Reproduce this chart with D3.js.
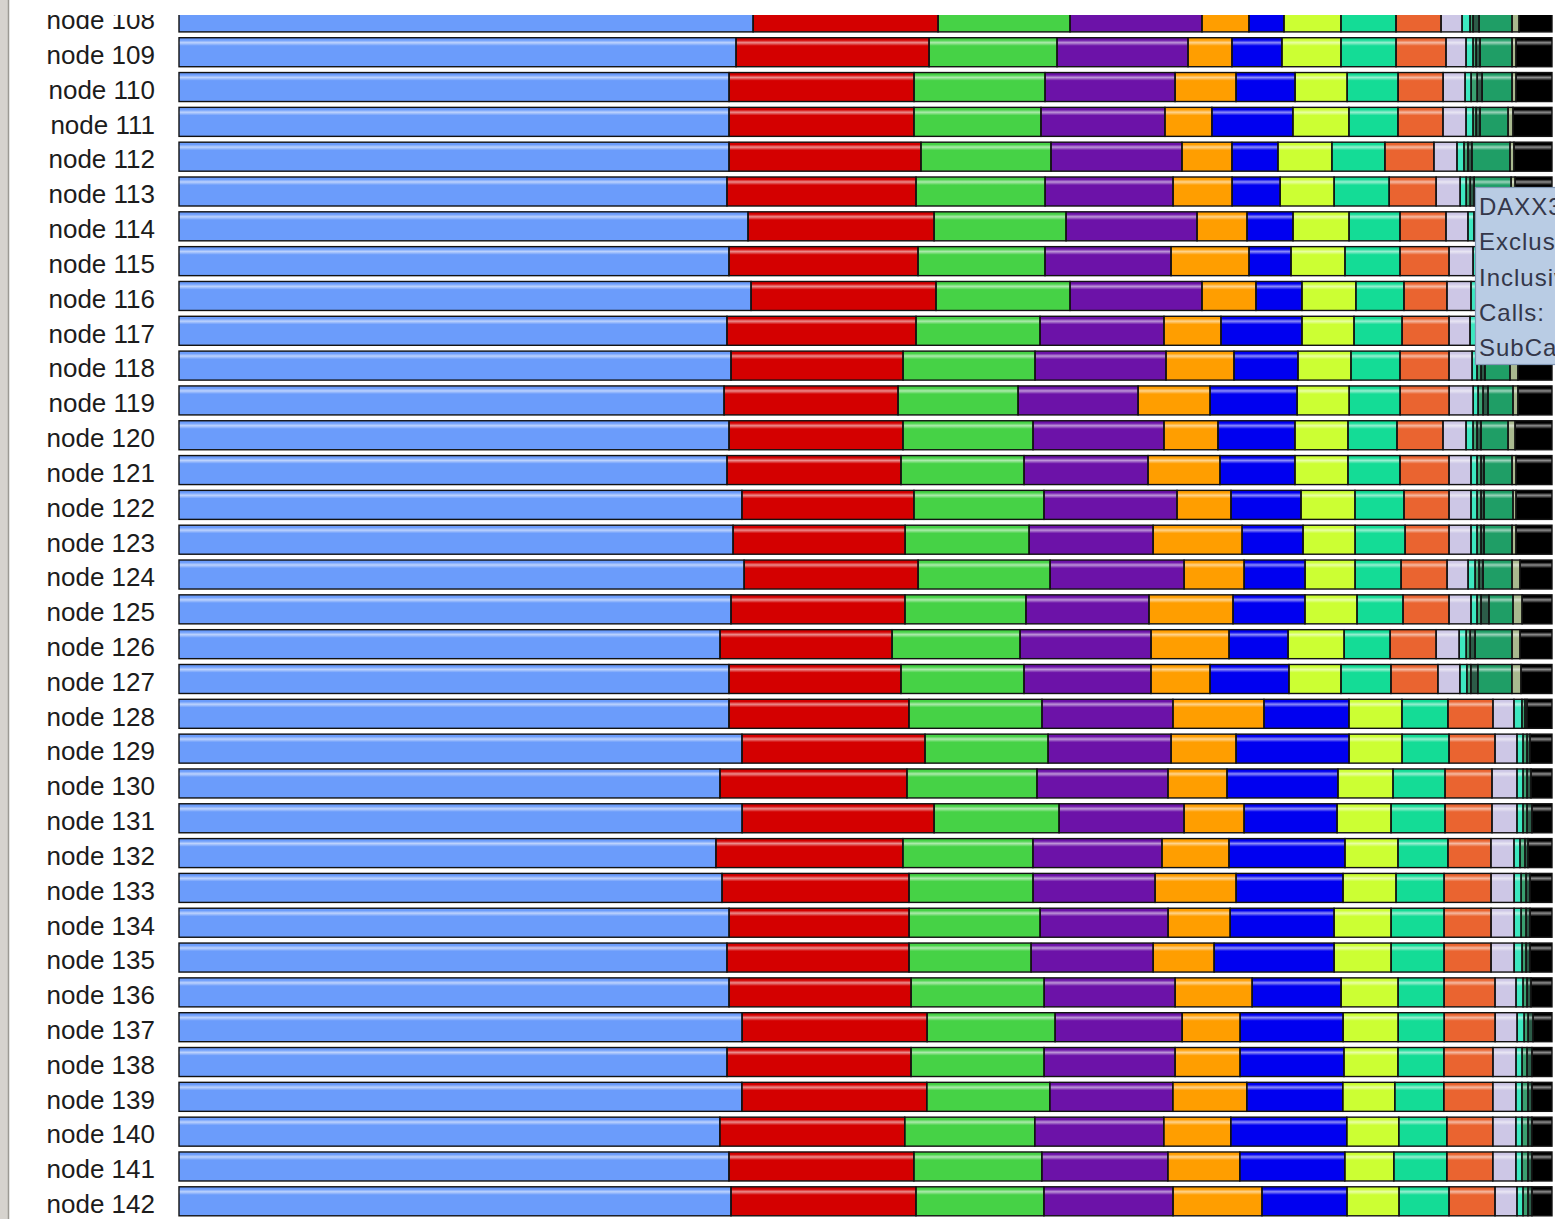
<!DOCTYPE html>
<html>
<head>
<meta charset="utf-8">
<script src="https://cdn.jsdelivr.net/npm/d3@7"></script>
<style>
  html, body { margin: 0; padding: 0; background: #fff; overflow: hidden; }
  svg { display: block; }
</style>
</head>
<body>
<svg id="chart" width="1555" height="1219"></svg>
<script>
// Nodes shown in this window of the stacked-bar view
const nodes = d3.range(108, 143).map(n => "node " + n);

// Share of each node's total time (percent) spent in each function, rows node 108 .. node 142
const fnLightBlue = [41.81,40.57,40.06,40.06,40.06,39.91,41.44,40.06,41.66,39.91,40.20,39.69,40.06,39.91,41.00,40.35,41.15,40.20,39.40,40.06,
                     40.06,41.00,39.40,41.00,39.11,39.55,40.06,39.91,40.06,41.00,39.91,41.00,39.40,40.06,40.20];
const fnRed       = [13.47,14.06,13.47,13.47,13.98,13.77,13.55,13.77,13.47,13.77,12.53,12.67,12.67,12.67,12.53,12.53,12.67,12.67,12.53,12.53,
                     13.11,13.33,13.62,13.98,13.62,13.62,13.11,13.26,13.26,13.47,13.40,13.47,13.47,13.47,13.47];
const fnGreen     = [9.61,9.32,9.54,9.25,9.47,9.40,9.61,9.25,9.76,9.03,9.61,8.74,9.47,8.96,9.47,9.03,9.61,8.81,9.32,8.96,
                     9.69,8.96,9.47,9.10,9.47,9.03,9.54,8.89,9.69,9.32,9.69,8.96,9.47,9.32,9.32];
const fnPurple    = [9.61,9.54,9.47,9.03,9.54,9.32,9.54,9.18,9.61,9.03,9.54,8.74,9.54,9.03,9.69,9.03,9.76,8.96,9.54,9.25,
                     9.54,8.96,9.54,9.10,9.40,8.89,9.32,8.89,9.54,9.25,9.54,8.96,9.40,9.18,9.40];
const fnOrange    = [3.42,3.20,4.44,3.42,3.64,4.30,3.64,5.68,3.93,4.15,4.95,5.24,3.93,5.24,3.93,6.48,4.37,6.12,5.68,4.30,
                     6.63,4.73,4.30,4.37,4.88,5.90,4.52,4.44,5.61,4.22,4.73,5.39,4.88,5.24,6.48];
const fnBlue      = [2.55,3.64,4.30,5.90,3.35,3.50,3.35,3.06,3.35,5.90,4.66,6.34,5.61,5.46,5.10,4.44,4.44,5.24,4.30,5.75,
                     6.19,8.23,8.08,6.77,8.45,7.79,7.57,8.74,6.48,7.50,7.57,6.99,8.45,7.65,6.19];
const fnLime      = [4.15,4.30,3.79,4.08,3.93,3.93,4.08,3.93,3.93,3.79,3.86,3.79,3.86,3.86,3.93,3.79,3.64,3.79,4.08,3.79,
                     3.86,3.86,4.01,3.93,3.86,3.86,4.15,4.15,4.15,4.01,3.93,3.79,3.79,3.57,3.79];
const fnTeal      = [4.01,4.01,3.71,3.57,3.86,4.01,3.71,4.01,3.50,3.50,3.57,3.71,3.57,3.79,3.57,3.64,3.35,3.35,3.35,3.64,
                     3.35,3.42,3.79,3.93,3.64,3.50,3.86,3.86,3.35,3.35,3.35,3.57,3.50,3.86,3.64];
const fnCoral     = [3.28,3.64,3.28,3.28,3.57,3.42,3.35,3.57,3.13,3.42,3.57,3.57,3.35,3.57,3.28,3.20,3.35,3.35,3.35,3.42,
                     3.28,3.35,3.42,3.42,3.13,3.42,3.42,3.42,3.71,3.71,3.57,3.57,3.35,3.35,3.35];
const fnLavender  = [1.53,1.46,1.60,1.68,1.68,1.75,1.60,1.75,1.75,1.53,1.68,1.75,1.68,1.60,1.60,1.60,1.53,1.60,1.68,1.60,
                     1.53,1.60,1.82,1.82,1.68,1.68,1.68,1.68,1.53,1.60,1.68,1.68,1.68,1.68,1.60];
const fnAqua      = [0.58,0.51,0.44,0.51,0.51,0.44,0.44,0.36,0.44,0.44,0.36,0.36,0.51,0.44,0.44,0.44,0.51,0.44,0.51,0.51,
                     0.58,0.44,0.44,0.44,0.44,0.51,0.51,0.58,0.51,0.51,0.44,0.44,0.44,0.44,0.44];
const fnJade      = [0.22,0.22,0.44,0.22,0.29,0.29,0.22,0.22,0.22,0.22,0.29,0.36,0.29,0.29,0.29,0.29,0.29,0.29,0.29,0.29,
                     0.22,0.29,0.29,0.29,0.36,0.36,0.36,0.29,0.29,0.29,0.36,0.44,0.44,0.44,0.36];
const fnPine      = [0.44,0.29,0.36,0.29,0.29,0.29,0.29,0.29,0.29,0.29,0.29,0.36,0.29,0.22,0.22,0.22,0.29,0.58,0.36,0.51,
                     0.15,0.22,0.29,0.36,0.22,0.29,0.29,0.29,0.29,0.36,0.36,0.29,0.29,0.29,0.29];
const fnSeaGreen  = [2.40,2.33,2.18,2.04,2.77,2.69,2.26,1.97,2.04,2.11,1.82,1.82,1.97,2.04,2.11,2.04,2.11,1.75,2.69,2.48,
                     0,0,0,0,0,0,0,0,0,0,0,0,0,0,0];
const fnSage      = [0.51,0.29,0.29,0.36,0.29,0.29,0.29,0.29,0.29,0.29,0.58,0.36,0.51,0.29,0.22,0.29,0.58,0.66,0.58,0.66,
                     0,0,0,0,0,0,0,0,0,0,0,0,0,0,0];
const fnBlack     = [2.40,2.62,2.62,2.84,2.77,2.69,2.62,2.62,2.62,2.62,2.48,2.48,2.69,2.62,2.62,2.62,2.33,2.18,2.33,2.26,
                     1.82,1.60,1.53,1.46,1.75,1.60,1.60,1.60,1.53,1.38,1.46,1.46,1.46,1.46,1.46];

// Stack order, left to right
const series = [fnLightBlue, fnRed, fnGreen, fnPurple, fnOrange, fnBlue, fnLime, fnTeal,
                fnCoral, fnLavender, fnAqua, fnJade, fnPine, fnSeaGreen, fnSage, fnBlack];
const colors = ["#6b9cfb", "#d40000", "#46d246", "#6c12a8", "#ff9e00", "#0000f0", "#ccff33", "#14dc96",
                "#ea6430", "#cdc7e6", "#3de8c0", "#3aa070", "#2c5c48", "#1f9e66", "#a9b98f", "#000000"];

// Tooltip lines for the function under the pointer
const tipLines = ["DAXX3", "Exclusive", "Inclusive", "Calls:", "SubCalls:"];

const W = 1555, H = 1219;
const barLeft = 179, barRight = 1552;
const svg = d3.select("#chart");
const defs = svg.append("defs");

defs.append("clipPath").attr("id", "plotClip")
  .append("rect").attr("x", 0).attr("y", 15).attr("width", W).attr("height", H - 15);

// Glossy highlight band near the top of every bar
const gloss = defs.append("linearGradient").attr("id", "gloss")
  .attr("x1", 0).attr("y1", 0).attr("x2", 0).attr("y2", 1);
[[0, 0], [0.08, 0], [0.17, 0.55], [0.28, 0], [1, 0]].forEach(([o, a]) =>
  gloss.append("stop").attr("offset", o).attr("stop-color", "#fff").attr("stop-opacity", a));

svg.append("rect").attr("width", W).attr("height", H).attr("fill", "#fff");

const y = d3.scaleBand().domain(nodes).range([2.9, 1215.8]).paddingInner(0.1671).paddingOuter(0);
const bw = y.bandwidth();

const rows = nodes.map((name, i) => {
  const vals = series.map(s => s[i]);
  const x = d3.scaleLinear().domain([0, d3.sum(vals)]).range([barLeft, barRight]);
  let acc = 0;
  const segs = vals.map((v, k) => { const s = { k, a: acc, b: acc + v, x }; acc += v; return s; })
                   .filter(s => s.b > s.a);
  return { name, x, segs };
});

const plot = svg.append("g").attr("clip-path", "url(#plotClip)");
const rowG = plot.selectAll("g.row").data(rows).join("g")
  .attr("class", "row")
  .attr("transform", d => `translate(0,${y(d.name)})`);

rowG.selectAll("rect.seg").data(d => d.segs).join("rect")
  .attr("class", "seg")
  .attr("x", s => s.x(s.a)).attr("y", 0)
  .attr("width", s => s.x(s.b) - s.x(s.a)).attr("height", bw)
  .attr("fill", s => colors[s.k]);

rowG.append("rect")
  .attr("x", d => d.x(0)).attr("width", d => d.x.range()[1] - d.x(0))
  .attr("y", 0).attr("height", bw).attr("fill", "url(#gloss)");

rowG.selectAll("rect.edge").data(d => d.segs).join("rect")
  .attr("class", "edge")
  .attr("x", s => s.x(s.a)).attr("y", 0)
  .attr("width", s => s.x(s.b) - s.x(s.a)).attr("height", bw)
  .attr("fill", "none").attr("stroke", "#121212").attr("stroke-width", 1.4);

rowG.append("text")
  .attr("x", 155).attr("y", 26.3)
  .attr("text-anchor", "end")
  .attr("font-family", "'Liberation Sans', Arial, sans-serif")
  .attr("font-size", 26)
  .attr("fill", "#1c1c1c")
  .text(d => d.name);

// Window frame on the left
svg.append("rect").attr("x", 0).attr("y", 0).attr("width", 8).attr("height", H).attr("fill", "#d6d3ce");
svg.append("line").attr("x1", 8.5).attr("x2", 8.5).attr("y1", 0).attr("y2", H)
  .attr("stroke", "#9c9a94").attr("stroke-width", 1.5);

// Tooltip box
const tip = svg.append("g");
tip.append("rect").attr("x", 1475.5).attr("y", 187.5).attr("width", 120).attr("height", 177)
  .attr("fill", "#b9cce4").attr("stroke", "#8197b5").attr("stroke-width", 1.2);
tip.selectAll("text").data(tipLines).join("text")
  .attr("x", 1479).attr("y", (d, i) => 215 + i * 35.3)
  .attr("font-family", "'Liberation Sans', Arial, sans-serif")
  .attr("font-size", 24)
  .attr("letter-spacing", 1)
  .attr("fill", "#34374a")
  .text(d => d);
</script>
</body>
</html>
